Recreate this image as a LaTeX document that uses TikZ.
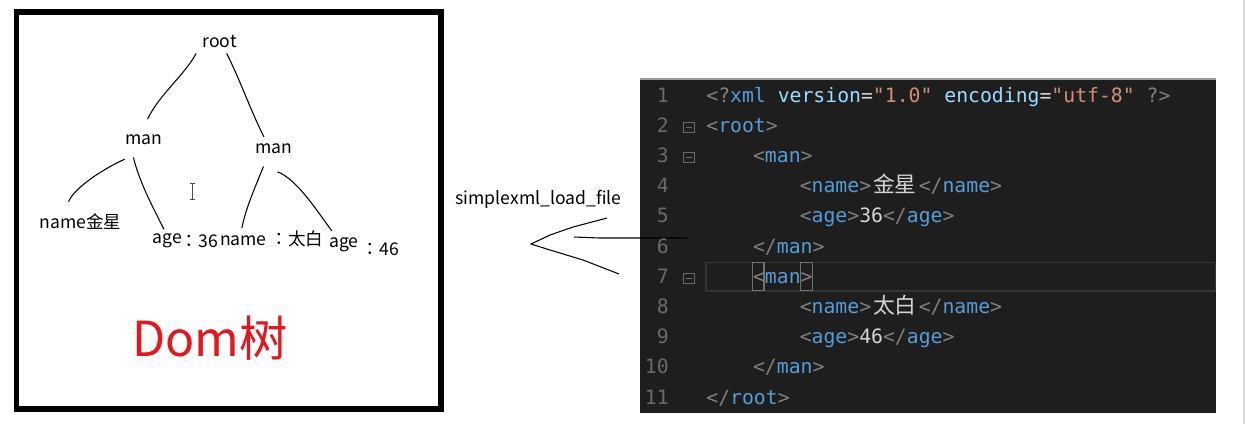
\documentclass[tikz,border=0pt]{standalone}
\usepackage{fontspec}
\setmainfont{Noto Sans CJK SC}
\newfontfamily\codefont{DejaVu Sans Mono}
\newfontfamily\cjkfont{Noto Sans CJK SC}
\newfontfamily\colonfont{Noto Sans CJK JP}
\usetikzlibrary{calc}
\definecolor{domred}{HTML}{E8141E}
\definecolor{codebg}{HTML}{1E1E1E}
\definecolor{panelrule}{HTML}{9A9A9A}
\definecolor{lnum}{HTML}{6A6A6A}
\definecolor{hlbox}{HTML}{333333}
\definecolor{matchbox}{HTML}{6B756B}
\definecolor{xmlpunct}{HTML}{808080}
\definecolor{xmltag}{HTML}{569CD6}
\definecolor{xmlattr}{HTML}{9CDCFE}
\definecolor{xmlstr}{HTML}{CE9178}
\definecolor{xmltext}{HTML}{D4D4D4}

% code colouring
\newcommand\xb[1]{\textcolor{xmlpunct}{#1}}
\newcommand\xt[1]{\textcolor{xmltag}{#1}}
\newcommand\xa[1]{\textcolor{xmlattr}{#1}}
\newcommand\xs[1]{\textcolor{xmlstr}{#1}}
\newcommand\xc[1]{\textcolor{xmltext}{#1}}
\newcommand\zh[1]{\makebox[2.408em][c]{\cjkfont\fontsize{12.4}{13}\selectfont #1}}
\newcommand\fwcolon{{\colonfont ：}}

\begin{document}
\begin{tikzpicture}[
  x=0.02cm, y=-0.02cm,
  treetext/.style={font=\fontsize{10}{12}\selectfont, anchor=base},
  treeline/.style={line width=0.6pt, black},
  codeline/.style={font=\codefont\fontsize{11.25}{13}\selectfont, text=xmltext, anchor=base west, inner sep=0pt},
  lineno/.style={font=\codefont\fontsize{11.25}{13}\selectfont, text=lnum, anchor=base east, inner sep=0pt},
  foldbox/.style={draw=lnum, line width=0.5pt, minimum size=0.21cm, inner sep=0pt,
    path picture={\draw[lnum, line width=0.5pt] ([xshift=1.3pt]path picture bounding box.west) -- ([xshift=-1.3pt]path picture bounding box.east);}},
]

% Canvas
\fill[white] (0,0) rectangle (1246,424);
\useasboundingbox (0,0) rectangle (1246,424);
\draw[black!15, line width=0.6pt] (1244,0) -- (1244,424);

% Left: DOM tree frame
\draw[black, line width=3pt] (16.5,12) rectangle (441,409);

% Tree nodes
\node[treetext] (root) at (219.5,47) {root};
\node[treetext] (manL) at (144,144) {man};
\node[treetext] (manR) at (274,153) {man};
\node[treetext] (nameA) at (80.5,228) {name金星};
\node[treetext, inner sep=1pt] (ageA) at (167.5,243) {age};
\node[treetext, anchor=base east, inner sep=1pt] (ageAval) at (220,247) {\fwcolon 36};
\node[treetext, anchor=base west, inner sep=1pt] (nameB) at (218,245) {name \fwcolon 太白};
\node[treetext] (ageB) at (344,247) {age};
\node[treetext, anchor=base east] (ageBval) at (405,255) {\fwcolon 46};

% Tree branches
\draw[treeline] (root.south west) .. controls +(-12,22) and +(12,-25) .. ([xshift=2pt,yshift=5pt]manL.north);
\draw[treeline] (root.-60) .. controls +(15,30) and +(-15,-30) .. ([xshift=-2pt]manR.120);
\draw[treeline] ([xshift=3pt,yshift=-5pt]manL.south west) .. controls +(-22,10) and +(6,-14) .. ([xshift=20pt,yshift=3pt]nameA.north west);
\draw[treeline] ([xshift=8pt,yshift=-4pt]manL.south west) .. controls +(6,25) and +(-10,-20) .. ([xshift=-2pt,yshift=1pt]ageA.north);
\draw[treeline] ([xshift=-6pt,yshift=-4pt]manR.south) .. controls +(-10,25) and +(4,-20) .. ([xshift=-17pt]nameB.north);
\draw[treeline] ([xshift=2pt,yshift=-7pt]manR.south) .. controls +(20,8) and +(-15,-20) .. ([xshift=5pt]ageB.north west);

% text cursor
\draw[black!70, line width=0.5pt] (192,184) -- (192,199) (189.5,183.5) -- (194.5,183.5) (189.5,199.5) -- (194.5,199.5);

% Title
\node[font=\fontsize{27.5}{30}\selectfont, text=domred, anchor=base] (domtitle) at (210,356) {Dom树};

% Middle: load call
\node[treetext] (fnlabel) at (538.5,204) {simplexml\_load\_file};
\coordinate (armA) at (607,218);
\coordinate (tip) at (531,244);
\coordinate (armB) at (619,274);
\coordinate (barL) at (574,237);
\coordinate (barR) at (687,238);

% Right: code panel
\fill[codebg] (640,79) rectangle (1216,413);
\draw[panelrule, line width=0.8pt] (640,79) -- (1216,79);
\draw[hlbox, line width=0.8pt] (706,262.5) rectangle (1215.5,291);
\draw[matchbox, line width=0.8pt] (752.5,262.5) rectangle (764,290.5);
\draw[matchbox, line width=0.8pt] (800.5,262.5) rectangle (812.5,290.5);

% hand drawn arrow
\draw[treeline] (armA) -- (573,227) -- (550,235) -- (tip) -- (550,250) -- (583,260) -- (armB);
\draw[treeline] (barL) -- (600,238) -- (barR);

% Line numbers
\node[lineno] (n1) at (669,102) {1};
\node[lineno] (n2) at (669,132.2) {2};
\node[lineno] (n3) at (669,162.4) {3};
\node[lineno] (n4) at (669,192.6) {4};
\node[lineno] (n5) at (669,222.8) {5};
\node[lineno] (n6) at (669,253) {6};
\node[lineno] (n7) at (669,283.2) {7};
\node[lineno] (n8) at (669,313.4) {8};
\node[lineno] (n9) at (669,343.6) {9};
\node[lineno] (n10) at (669,373.8) {10};
\node[lineno] (n11) at (669,404) {11};

% Fold markers
\node[foldbox] (f2) at (689,127.2) {};
\node[foldbox] (f3) at (689,157.4) {};
\node[foldbox] (f7) at (689,278.2) {};

% Code lines
\node[codeline] (c1) at (706,102) {\xb{<?}\xt{xml} \xa{version}\xc{=}\xs{"1.0"} \xa{encoding}\xc{=}\xs{"utf-8"} \xb{?>}};
\node[codeline] (c2) at (706,132.2) {\xb{<}\xt{root}\xb{>}};
\node[codeline] (c3) at (752.7,162.4) {\xb{<}\xt{man}\xb{>}};
\node[codeline] (c4) at (799.4,192.6) {\xb{<}\xt{name}\xb{>}\xc{\zh{金星}}\xb{</}\xt{name}\xb{>}};
\node[codeline] (c5) at (799.4,222.8) {\xb{<}\xt{age}\xb{>}\xc{36}\xb{</}\xt{age}\xb{>}};
\node[codeline] (c6) at (752.7,253) {\xb{</}\xt{man}\xb{>}};
\node[codeline] (c7) at (752.7,283.2) {\xb{<}\xt{man}\xb{>}};
\node[codeline] (c8) at (799.4,313.4) {\xb{<}\xt{name}\xb{>}\xc{\zh{太白}}\xb{</}\xt{name}\xb{>}};
\node[codeline] (c9) at (799.4,343.6) {\xb{<}\xt{age}\xb{>}\xc{46}\xb{</}\xt{age}\xb{>}};
\node[codeline] (c10) at (752.7,373.8) {\xb{</}\xt{man}\xb{>}};
\node[codeline] (c11) at (706,404) {\xb{</}\xt{root}\xb{>}};

\end{tikzpicture}
\end{document}
